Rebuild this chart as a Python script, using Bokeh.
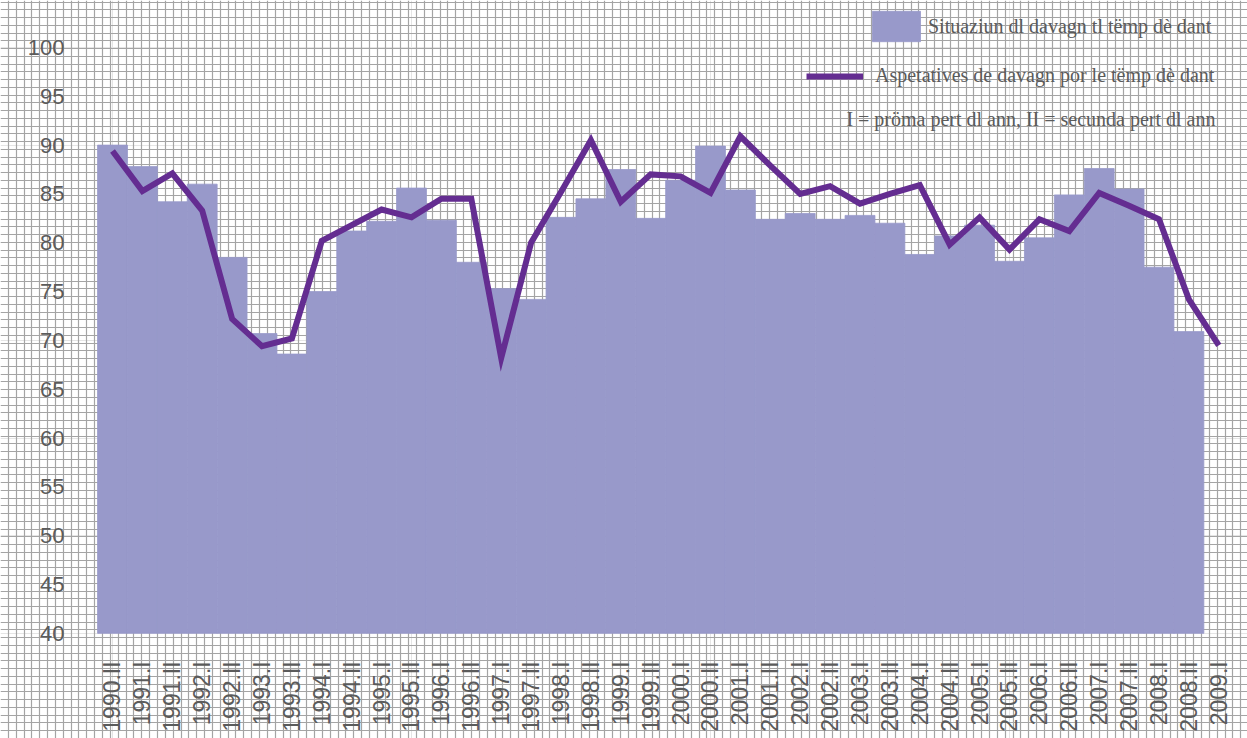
import math
import numpy as np
from bokeh.plotting import figure
from bokeh.models import (ColumnDataSource, Range1d, LinearAxis, FixedTicker, Grid,
                          Legend, LegendItem, Label)
from bokeh.embed import file_html
from bokeh.resources import INLINE

categories = ["1990.II", "1991.I", "1991.II", "1992.I", "1992.II", "1993.I", "1993.II",
              "1994.I", "1994.II", "1995.I", "1995.II", "1996.I", "1996.II", "1997.I",
              "1997.II", "1998.I", "1998.II", "1999.I", "1999.II", "2000.I", "2000.II",
              "2001.I", "2001.II", "2002.I", "2002.II", "2003.I", "2003.II", "2004.I",
              "2004.II", "2005.I", "2005.II", "2006.I", "2006.II", "2007.I", "2007.II",
              "2008.I", "2008.II", "2009.I"]

# Situaziun dl davagn tl tëmp dè dant (bars, until 2008.II)
situaziun = [90.0, 87.8, 84.2, 86.0, 78.5, 70.7, 68.6, 75.0, 81.2, 82.2, 85.6, 82.3,
             78.0, 75.3, 74.2, 82.6, 84.5, 87.5, 82.5, 86.4, 89.9, 85.4, 82.4, 83.0,
             82.4, 82.8, 82.0, 78.8, 80.7, 81.8, 78.1, 80.5, 84.9, 87.6, 85.5, 77.5, 70.9]

# Aspetatives de davagn por le tëmp dè dant (line)
aspetatives = [89.4, 85.3, 87.1, 83.3, 72.2, 69.4, 70.2, 80.2, 81.8, 83.4, 82.6, 84.5,
               84.5, 68.2, 80.0, 85.2, 90.5, 84.2, 87.0, 86.8, 85.1, 90.9, 87.9, 85.0,
               85.8, 84.0, 85.0, 85.9, 79.8, 82.6, 79.3, 82.4, 81.2, 85.1, 83.8, 82.4,
               74.2, 69.5]

y_ticks = [40, 45, 50, 55, 60, 65, 70, 75, 80, 85, 90, 95, 100]
y_base = 40

label_bar = "Situaziun dl davagn tl tëmp dè dant"
label_line = "Aspetatives de davagn por le tëmp dè dant"
note = "I = pröma pert dl ann, II = secunda pert dl ann"

W, H = 1247, 738
x0, x1 = -3.746, 37.96
y0, y1 = 29.23, 104.81
px_x = 29.9    # pixels per category
px_y = 9.764   # pixels per unit

p = figure(width=W, height=H, output_backend="svg", toolbar_location=None,
           x_axis_location=None, y_axis_location=None,
           x_range=Range1d(x0, x1), y_range=Range1d(y0, y1),
           min_border=0, outline_line_color=None,
           background_fill_color="white", border_fill_color="white")

# fine background grid pattern (graph-paper look)
gx = FixedTicker(ticks=list(np.arange(x0, x1, 7.85 / px_x)))
gy = FixedTicker(ticks=list(np.arange(y0, y1, 7.75 / px_y)))
grid_col = "#a4a4a4"
p.add_layout(Grid(dimension=0, ticker=gx, grid_line_color=grid_col, grid_line_width=1.2))
p.add_layout(Grid(dimension=1, ticker=gy, grid_line_color=grid_col, grid_line_width=1.2))

bar_col = "#9899ca"
bar_src = ColumnDataSource(dict(x=list(range(len(situaziun))), top=situaziun))
bars = p.vbar(x="x", top="top", bottom=y_base, width=1.0, source=bar_src,
              fill_color=bar_col, line_color=bar_col, line_width=0.8)

line_src = ColumnDataSource(dict(x=list(range(len(aspetatives))), y=aspetatives))
ln = p.line(x="x", y="y", source=line_src, line_color="#642d91", line_width=6,
            line_join="miter")

txt_col = "#5b5b5b"
yaxis = LinearAxis(ticker=FixedTicker(ticks=y_ticks), fixed_location=-0.5,
                   axis_line_color=None, major_tick_line_color=None,
                   minor_tick_line_color=None, major_tick_out=0, major_tick_in=0,
                   major_label_standoff=33,
                   major_label_text_font="Liberation Sans",
                   major_label_text_font_size="22px",
                   major_label_text_color=txt_col)
p.add_layout(yaxis, "left")

xaxis = LinearAxis(ticker=FixedTicker(ticks=list(range(len(categories)))),
                   fixed_location=y_base,
                   major_label_overrides={i: c for i, c in enumerate(categories)},
                   major_label_orientation=math.pi / 2,
                   axis_line_color=None, major_tick_line_color=None,
                   minor_tick_line_color=None, major_tick_out=0, major_tick_in=0,
                   major_label_standoff=28,
                   major_label_text_font="Liberation Sans",
                   major_label_text_font_size="23px",
                   major_label_text_color=txt_col)
p.add_layout(xaxis, "below")

common = dict(padding=0, margin=0, background_fill_alpha=0, border_line_alpha=0,
              label_text_font="Liberation Serif", label_text_font_size="20px",
              label_text_color=txt_col)
leg1 = Legend(items=[LegendItem(label=label_bar, renderers=[bars])],
              location=(866, 693), glyph_width=60, glyph_height=38, label_height=38,
              label_standoff=2, **common)
leg2 = Legend(items=[LegendItem(label=label_line, renderers=[ln])],
              location=(806, 651), glyph_width=57, glyph_height=20, label_height=20,
              label_standoff=12, **common)
p.add_layout(leg1)
p.add_layout(leg2)

p.add_layout(Label(x=1215, y=620, x_units="screen", y_units="screen", text=note,
                   text_align="right", text_baseline="middle",
                   text_font="Liberation Serif", text_font_size="20px",
                   text_color=txt_col))

open("out.html", "w").write(file_html(p, INLINE))
